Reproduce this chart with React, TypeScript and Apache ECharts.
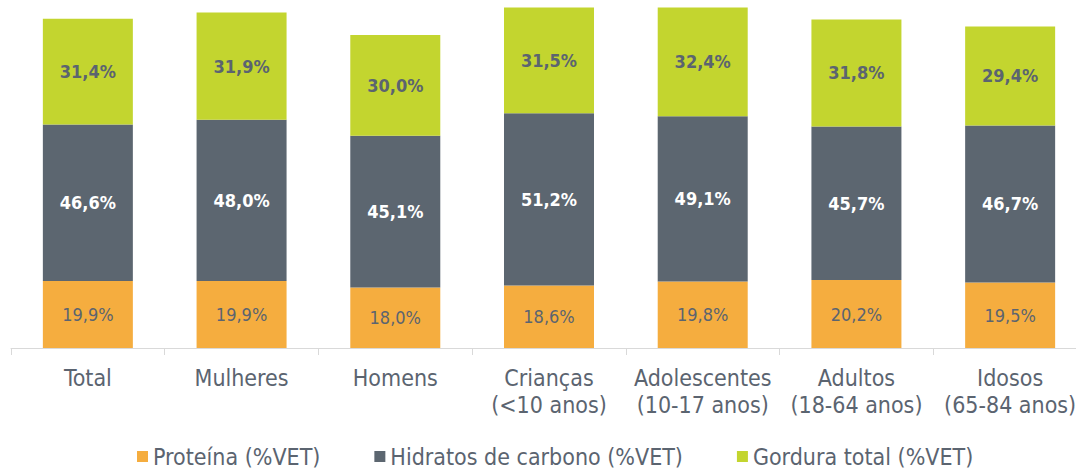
import React, { useEffect, useRef } from "react";
import * as echarts from "echarts";

const categories = [
  "Total",
  "Mulheres",
  "Homens",
  "Crianças\n(<10 anos)",
  "Adolescentes\n(10-17 anos)",
  "Adultos\n(18-64 anos)",
  "Idosos\n(65-84 anos)",
];
const proteina = [19.9, 19.9, 18.0, 18.6, 19.8, 20.2, 19.5];
const hidratos = [46.6, 48.0, 45.1, 51.2, 49.1, 45.7, 46.7];
const gordura = [31.4, 31.9, 30.0, 31.5, 32.4, 31.8, 29.4];
const seriesNames = ["Proteína (%VET)", "Hidratos de carbono (%VET)", "Gordura total (%VET)"];

const FONT = "'DejaVu Sans Condensed', 'DejaVu Sans', sans-serif";
const TEXT = "#5b6470";
const fmt = (p: any) => p.value.toFixed(1).replace(".", ",") + "%";

export default function App() {
  const ref = useRef<HTMLDivElement>(null);
  useEffect(() => {
    if (!ref.current) return;
    const chart = echarts.init(ref.current, undefined, { renderer: "svg" });
    chart.setOption({
      animation: false,
      textStyle: { fontFamily: FONT },
      grid: { left: 11, right: 0, top: 0, bottom: 121, containLabel: false },
      legend: {
        top: 440,
        left: 132,
        padding: [5, 5, 0, 5],
        itemWidth: 11,
        itemHeight: 11,
        itemGap: 54,
        icon: "rect",
        textStyle: { fontFamily: FONT, fontSize: 23, lineHeight: 22, color: TEXT },
        data: seriesNames,
      },
      xAxis: {
        type: "category",
        data: categories,
        axisLine: { lineStyle: { color: "#d9d9d9", width: 1 } },
        axisTick: { show: true, length: 7, lineStyle: { color: "#d9d9d9" } },
        axisLabel: { interval: 0, fontFamily: FONT, fontSize: 23, color: TEXT, margin: 16, lineHeight: 27 },
      },
      yAxis: { type: "value", min: 0, max: 103.5, show: false, splitLine: { show: false } },
      series: [
        {
          name: seriesNames[0],
          type: "bar",
          stack: "a",
          barWidth: 90,
          data: proteina,
          itemStyle: { color: "#f5ad3f" },
          label: { show: true, position: "inside", formatter: fmt, fontFamily: FONT, fontSize: 18, color: TEXT },
        },
        {
          name: seriesNames[1],
          type: "bar",
          stack: "a",
          barWidth: 90,
          data: hidratos,
          itemStyle: { color: "#5c6670" },
          label: { show: true, position: "inside", formatter: fmt, fontFamily: FONT, fontSize: 18, fontWeight: "bold", color: "#ffffff" },
        },
        {
          name: seriesNames[2],
          type: "bar",
          stack: "a",
          barWidth: 90,
          data: gordura,
          itemStyle: { color: "#c3d52f" },
          label: { show: true, position: "inside", formatter: fmt, fontFamily: FONT, fontSize: 18, fontWeight: "bold", color: TEXT },
        },
      ],
    });
    return () => chart.dispose();
  }, []);
  return (
    <div style={{ position: "absolute", left: 0, top: 0, width: 1076, height: 469, overflow: "hidden", background: "#fff" }}>
      <div ref={ref} style={{ width: 1087, height: 469 }} />
    </div>
  );
}
